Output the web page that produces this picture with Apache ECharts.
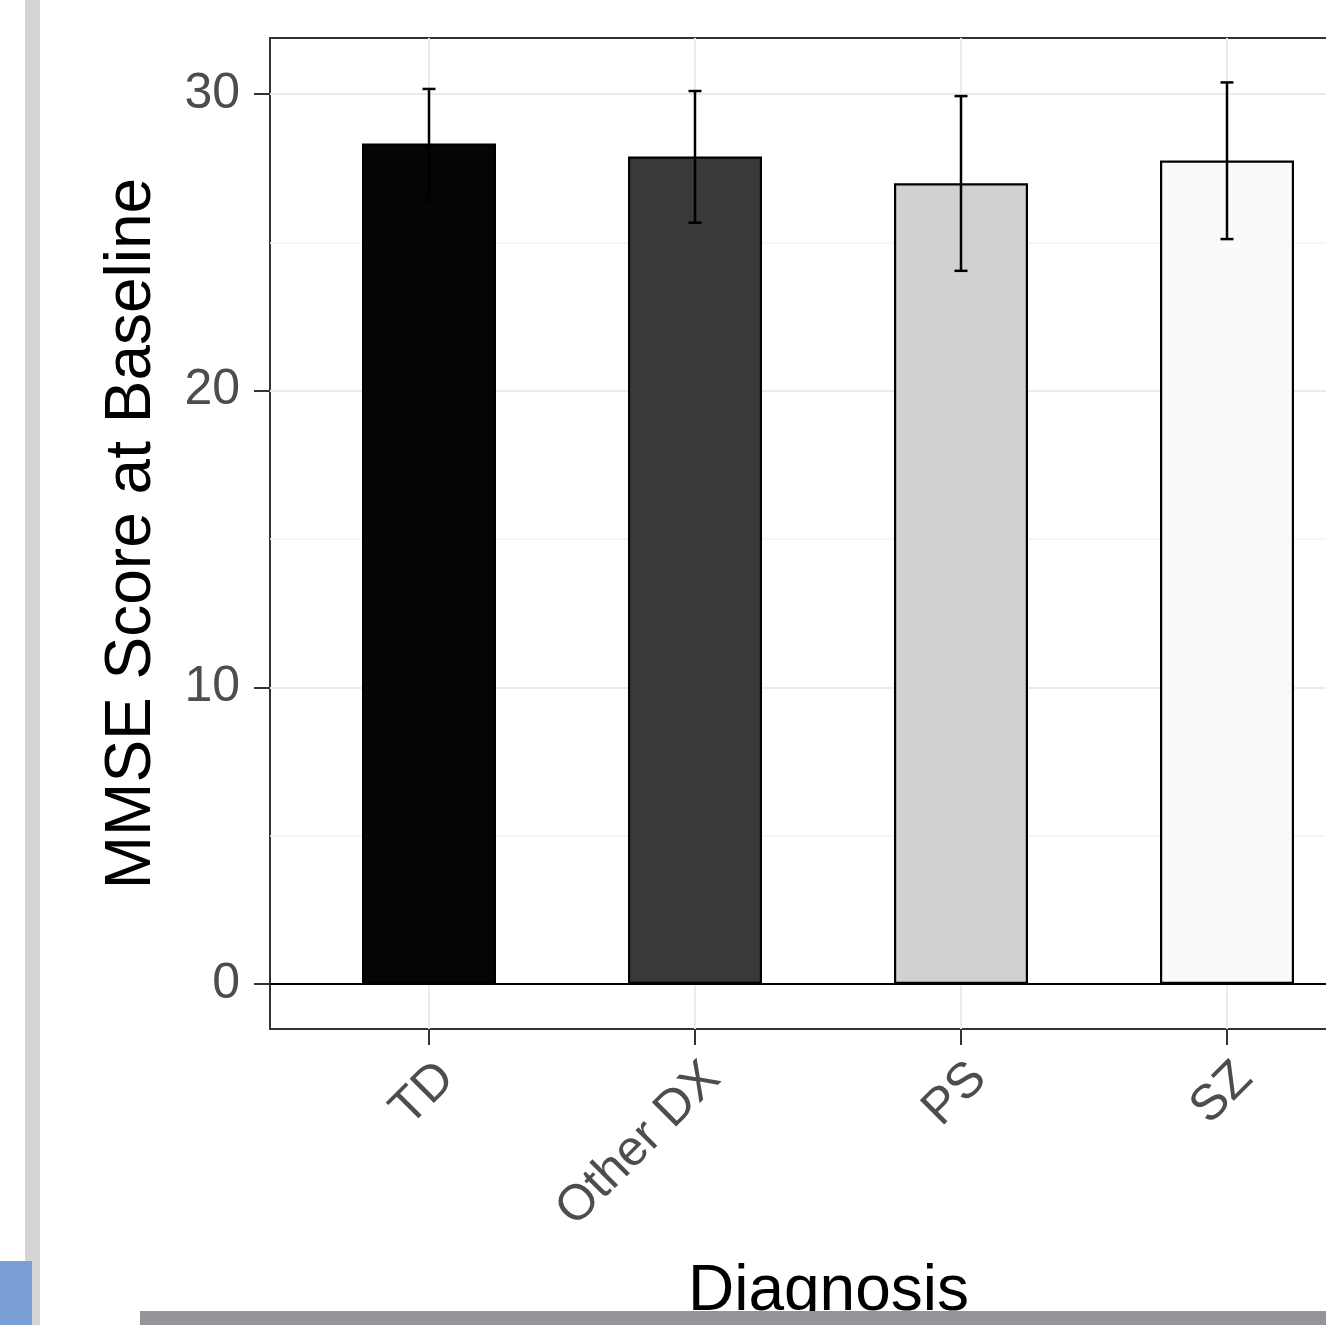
<!DOCTYPE html>
<html>
<head>
<meta charset="utf-8">
<script src="https://cdn.jsdelivr.net/npm/echarts@6/dist/echarts.min.js"></script>
<style>
html,body{margin:0;padding:0;background:#fff;}
#chart{width:1326px;height:1325px;}
</style>
</head>
<body>
<div id="chart"></div>
<script>
const categories = ['TD', 'Other DX', 'PS', 'SZ'];
const meanScores = [28.33, 27.89, 26.99, 27.76];
const errLow = [26.43, 25.66, 24.04, 25.11];
const errHigh = [30.17, 30.10, 29.93, 30.39];
const barColors = ['#050505', '#393939', '#d1d1d1', '#fafafa'];
const yTicks = [0, 10, 20, 30];

const FONT = '"Liberation Sans", Arial, Helvetica, sans-serif';
const chart = echarts.init(document.getElementById('chart'));

const G = {outerBoundsMode: 'none', containLabel: false};
const option = {
  backgroundColor: '#ffffff',
  animation: false,
  grid: [
    Object.assign({left: 270, top: 38, width: 1117, height: 991, show: true, borderColor: '#333333', borderWidth: 2, backgroundColor: 'transparent'}, G),
    Object.assign({left: 270, top: 94, width: 1117, height: 890}, G),
    Object.assign({left: 429, top: 38, width: 798, height: 991}, G),
    Object.assign({left: 429, top: 94, width: 798, height: 890}, G)
  ],
  xAxis: [
    {gridIndex: 0, type: 'value', min: 0, max: 1, axisLine: {show: false}, axisTick: {show: false}, axisLabel: {show: false}, splitLine: {show: false},
     name: 'Diagnosis', nameLocation: 'middle', nameGap: 231, nameTextStyle: {fontFamily: FONT, fontSize: 64, color: '#000'}},
    {gridIndex: 1, type: 'value', min: 0, max: 1, position: 'bottom',
     axisLine: {show: true, onZero: false, lineStyle: {color: '#000', width: 2}}, axisTick: {show: false}, axisLabel: {show: false}, splitLine: {show: false}},
    {gridIndex: 2, type: 'category', data: categories, boundaryGap: false, position: 'bottom',
     axisLine: {show: false}, axisTick: {show: true, length: 16, lineStyle: {color: '#333', width: 2}},
     axisLabel: {rotate: 45, margin: 24, verticalAlign: 'top', fontFamily: FONT, fontSize: 50, color: '#4d4d4d', interval: 0},
     splitLine: {show: true, lineStyle: {color: '#ebebeb', width: 2}}},
    {gridIndex: 3, type: 'category', data: categories, boundaryGap: false, show: false}
  ],
  yAxis: [
    {gridIndex: 0, type: 'value', min: 0, max: 1, axisLine: {show: false}, axisTick: {show: false}, axisLabel: {show: false}, splitLine: {show: false},
     name: 'MMSE Score at Baseline', nameLocation: 'middle', nameRotate: 90, nameGap: 106, nameTextStyle: {fontFamily: FONT, fontSize: 64, color: '#000'}},
    {gridIndex: 1, type: 'value', min: yTicks[0], max: yTicks[yTicks.length - 1], interval: 10,
     axisLine: {show: false}, axisTick: {show: true, length: 16, lineStyle: {color: '#333', width: 2}},
     axisLabel: {margin: 30, fontFamily: FONT, fontSize: 50, color: '#4d4d4d'},
     splitLine: {show: true, lineStyle: {color: '#ebebeb', width: 2}},
     minorTick: {show: false, splitNumber: 2},
     minorSplitLine: {show: true, lineStyle: {color: '#f2f2f2', width: 1.5}}},
    {gridIndex: 2, type: 'value', min: 0, max: 1, show: false, splitLine: {show: false}},
    {gridIndex: 3, type: 'value', min: yTicks[0], max: yTicks[yTicks.length - 1], show: false, splitLine: {show: false}}
  ],
  graphic: [
    {type: 'rect', shape: {x: 25, y: 0, width: 15, height: 1325}, style: {fill: '#d4d5d7'}, z: 100},
    {type: 'rect', shape: {x: 0, y: 1261, width: 32, height: 64}, style: {fill: '#7b9fd4'}, z: 101},
    {type: 'rect', shape: {x: 140, y: 1311, width: 1186, height: 14}, style: {fill: '#939598'}, z: 100}
  ],
  series: [
    {
      type: 'bar', xAxisIndex: 3, yAxisIndex: 3, barWidth: 134, clip: false,
      data: meanScores.map((v, i) => ({value: v, itemStyle: {color: barColors[i]}})),
      itemStyle: {borderColor: '#000', borderWidth: 2.2},
      z: 3
    },
    {
      type: 'custom', xAxisIndex: 3, yAxisIndex: 3, clip: false, z: 5,
      data: categories.map((c, i) => [i, errLow[i], errHigh[i]]),
      renderItem: function (params, api) {
        const x = api.value(0);
        const lo = api.coord([x, api.value(1)]);
        const hi = api.coord([x, api.value(2)]);
        const hw = 6.5;
        const st = {stroke: '#000', lineWidth: 2.5};
        return {type: 'group', children: [
          {type: 'line', shape: {x1: lo[0], y1: lo[1], x2: hi[0], y2: hi[1]}, style: st},
          {type: 'line', shape: {x1: lo[0] - hw, y1: lo[1], x2: lo[0] + hw, y2: lo[1]}, style: st},
          {type: 'line', shape: {x1: hi[0] - hw, y1: hi[1], x2: hi[0] + hw, y2: hi[1]}, style: st}
        ]};
      }
    }
  ]
};
chart.setOption(option);
</script>
</body>
</html>
